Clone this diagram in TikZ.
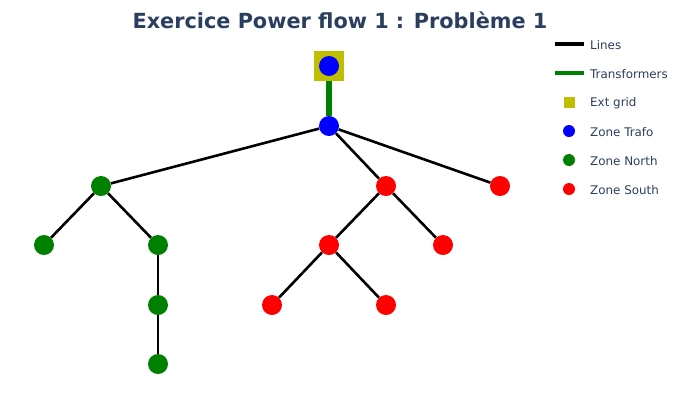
\documentclass[tikz,border=0pt]{standalone}
\usepackage{fontspec}
\setmainfont{DejaVu Sans}
\usetikzlibrary{positioning}
\definecolor{titleblue}{HTML}{2A3F5F}
\definecolor{extgrid}{HTML}{BFBF00}
\definecolor{northgreen}{HTML}{008000}
\definecolor{southred}{HTML}{FF0000}
\definecolor{trafoblue}{HTML}{0000FF}

\tikzset{
  bus/.style={circle, inner sep=0pt, minimum size=20pt},
  trafobus/.style={bus, fill=trafoblue},
  northbus/.style={bus, fill=northgreen},
  southbus/.style={bus, fill=southred},
  lineedge/.style={line width=2.6pt, black},
  trafoedge/.style={line width=6pt, northgreen},
  legtext/.style={font=\fontsize{11.9}{13}\selectfont, text=titleblue, inner sep=0pt, anchor=west},
  legdot/.style={circle, inner sep=0pt, minimum size=12pt},
}

\begin{document}
\begin{tikzpicture}[x=1pt, y=-1pt, line cap=butt, line join=round]
  \useasboundingbox (0,0) rectangle (680,400);
  %--- Title
  \node[font=\fontsize{20.8}{24}\selectfont\bfseries, text=titleblue] (title) at (340,20) {Exercice Power flow 1 : Problème 1};
  %--- Ext grid and transformer
  \node[fill=extgrid, minimum size=30pt, inner sep=0pt] (grid) at (329,66) {};
  \node[trafobus] (b0) at (329,66) {};
  \node[trafobus] (b1) at (329,126) {};
  \draw[trafoedge] (grid.south) -- (b1);
  %--- Zone North
  \node[northbus] (n1) at (101,186) {};
  \node[northbus] (n2) at (44,245) {};
  \node[northbus] (n3) at (158,245) {};
  \node[northbus] (n4) at (158,305) {};
  \node[northbus] (n5) at (158,364) {};
  %--- Zone South
  \node[southbus] (s1) at (386,186) {};
  \node[southbus] (s2) at (500,186) {};
  \node[southbus] (s3) at (329,245) {};
  \node[southbus] (s4) at (443,245) {};
  \node[southbus] (s5) at (272,305) {};
  \node[southbus] (s6) at (386,305) {};
  %--- Lines
  \draw[lineedge] (b1) -- (n1);
  \draw[lineedge] (b1) -- (s1);
  \draw[lineedge] (b1) -- (s2);
  \draw[lineedge] (n1) -- (n2);
  \draw[lineedge] (n1) -- (n3);
  \draw[lineedge] (n3) -- (n4);
  \draw[lineedge] (n4) -- (n5);
  \draw[lineedge] (s1) -- (s3);
  \draw[lineedge] (s1) -- (s4);
  \draw[lineedge] (s3) -- (s5);
  \draw[lineedge] (s3) -- (s6);
  %--- Legend
  \coordinate (lgA) at (555,44);
  \coordinate (lgB) at (584,44);
  \draw[line width=4pt, black] (lgA) -- (lgB);
  \node[legtext, right=6pt of lgB, yshift=-1pt] (lgLines) {Lines};
  \coordinate (lgC) at (555,73);
  \coordinate (lgD) at (584,73);
  \draw[line width=4pt, northgreen] (lgC) -- (lgD);
  \node[legtext, right=6pt of lgD, yshift=-1pt] (lgTrafo) {Transformers};
  \node[fill=extgrid, minimum size=11pt, inner sep=0pt] (lgGrid) at (569,102) {};
  \node[legtext] (lgGridT) at (590,103) {Ext grid};
  \node[legdot, fill=trafoblue] (lgBlue) at (569,131) {};
  \node[legtext] (lgBlueT) at (590,132) {Zone Trafo};
  \node[legdot, fill=northgreen] (lgGreen) at (569,160) {};
  \node[legtext] (lgGreenT) at (590,161) {Zone North};
  \node[legdot, fill=southred] (lgRed) at (569,189) {};
  \node[legtext] (lgRedT) at (590,190) {Zone South};
\end{tikzpicture}
\end{document}
